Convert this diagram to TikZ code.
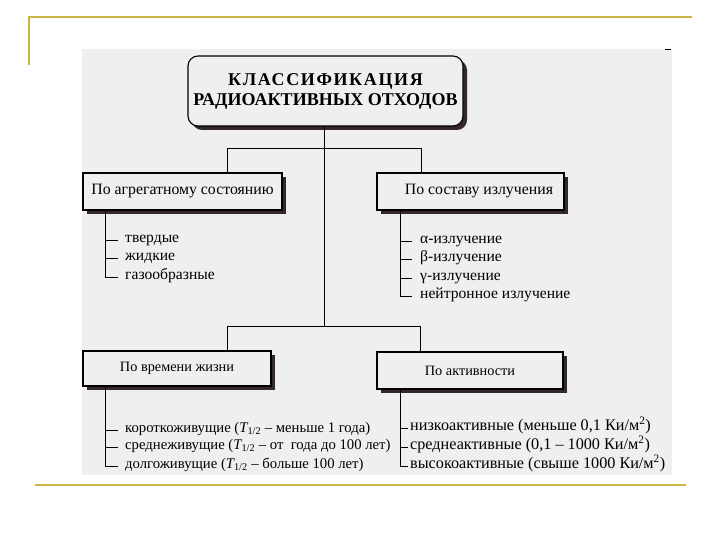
\documentclass[tikz,border=0pt]{standalone}
\usepackage{fontspec}
\setmainfont{Liberation Serif}
\usetikzlibrary{shadows}
\definecolor{gold}{RGB}{204,180,66}
\definecolor{bgg}{RGB}{239,239,239}
\definecolor{shad}{RGB}{52,40,40}
\begin{document}
\begin{tikzpicture}[x=1pt,y=-1pt,
  box/.style={draw=black, line width=1.1pt, fill=bgg, rectangle, inner sep=0pt,
    drop shadow={shadow xshift=4pt, shadow yshift=-4pt, fill=shad, opacity=1},
    font=\fontsize{15.8}{18}\selectfont},
  smallbox/.style={box, font=\fontsize{14.3}{17}\selectfont},
  item/.style={anchor=west, inner ysep=0pt, inner xsep=0pt, text height=8pt, text depth=2.5pt,
    font=\fontsize{15.6}{17}\selectfont},
  lifeitem/.style={item, font=\fontsize{14.7}{16}\selectfont},
  actitem/.style={item, font=\fontsize{16.2}{18}\selectfont},
  conn/.style={draw=black, line width=0.9pt},
  deco/.style={draw=gold, line width=2pt}]
\useasboundingbox (0,0) rectangle (720,540);
% frame decoration
\draw[deco] (29,65) -- (29,17) -- (692,17);
\draw[deco, line width=2.6pt] (35,485) -- (686,485);
% background panel
\fill[bgg] (82,49) rectangle (672,475);
\draw[black, line width=0.8pt] (665,49) -- (671,49);
% title
\node[box, rounded corners=10pt, minimum width=275pt, minimum height=70pt,
  font=\fontsize{18}{20}\selectfont\bfseries, align=center]
  (title) at (325.5,91) {{\addfontfeature{LetterSpace=9}КЛАССИФИКАЦИЯ}\\РАДИОАКТИВНЫХ ОТХОДОВ};
% category boxes
\node[box, minimum width=199pt, minimum height=37pt] (agg) at (182.5,191.5) {По агрегатному состоянию};
\node[box, minimum width=187pt, minimum height=37pt] (sost) at (470.5,191.5) {\hspace{17pt}По составу излучения};
\node[smallbox, minimum width=188pt, minimum height=35pt] (life) at (177,368.5) {По времени жизни};
\node[smallbox, minimum width=186pt, minimum height=37pt] (act) at (470,370.5) {По активности};
% junctions
\coordinate (j1) at (324,148);
\coordinate (j2) at (324,326);
\coordinate (la) at (227,148);
\coordinate (ra) at (421,148);
\coordinate (lb) at (227,326);
\coordinate (rb) at (420,326);
\draw[conn] (title.south -| j1) -- (j2);
\draw[conn] (agg.north -| la) -- (la) -- (ra) -- (sost.north -| ra);
\draw[conn] (life.north -| lb) -- (lb) -- (rb) -- (act.north -| rb);
% list: aggregate state
\coordinate (va) at (105,0);
\node[item] (a1) at (118,240) {\hspace{7pt}твердые};
\node[item] (a2) at (118,258) {\hspace{7pt}жидкие};
\node[item] (a3) at (118,277) {\hspace{7pt}газообразные};
\draw[conn] (agg.south -| va) -- (va |- a3.west) -- (a3.west);
\draw[conn] (va |- a1.west) -- (a1.west);
\draw[conn] (va |- a2.west) -- (a2.west);
% list: radiation
\coordinate (vs) at (400,0);
\node[item] (s1) at (412,241) {\hspace{8pt}α-излучение};
\node[item] (s2) at (412,259) {\hspace{8pt}β-излучение};
\node[item] (s3) at (412,278) {\hspace{8pt}γ-излучение};
\node[item] (s4) at (412,296) {\hspace{8pt}нейтронное излучение};
\draw[conn] (sost.south -| vs) -- (vs |- s4.west) -- (s4.west);
\draw[conn] (vs |- s1.west) -- (s1.west);
\draw[conn] (vs |- s2.west) -- (s2.west);
\draw[conn] (vs |- s3.west) -- (s3.west);
% list: lifetime
\node[lifeitem] (l1) at (118,430) {\hspace{7pt}короткоживущие ({\itshape T}\textsubscript{1/2} – меньше 1 года)};
\node[lifeitem] (l2) at (118,447) {\hspace{7pt}среднеживущие ({\itshape T}\textsubscript{1/2} – от\enspace года до 100 лет)};
\node[lifeitem] (l3) at (118,466) {\hspace{7pt}долгоживущие ({\itshape T}\textsubscript{1/2} – больше 100 лет)};
\draw[conn] (life.south -| va) -- (va |- l3.west) -- (l3.west);
\draw[conn] (va |- l1.west) -- (l1.west);
\draw[conn] (va |- l2.west) -- (l2.west);
% list: activity
\node[actitem] (c1) at (408,428) {\hspace{2pt}низкоактивные (меньше 0,1 Ки/м\textsuperscript{2})};
\node[actitem] (c2) at (408,447) {\hspace{2pt}среднеактивные (0,1 – 1000 Ки/м\textsuperscript{2})};
\node[actitem] (c3) at (408,466) {\hspace{2pt}высокоактивные (свыше 1000 Ки/м\textsuperscript{2})};
\draw[conn] (act.south -| vs) -- (vs |- c3.west) -- (c3.west);
\draw[conn] (vs |- c1.west) -- (c1.west);
\draw[conn] (vs |- c2.west) -- (c2.west);
\end{tikzpicture}
\end{document}
